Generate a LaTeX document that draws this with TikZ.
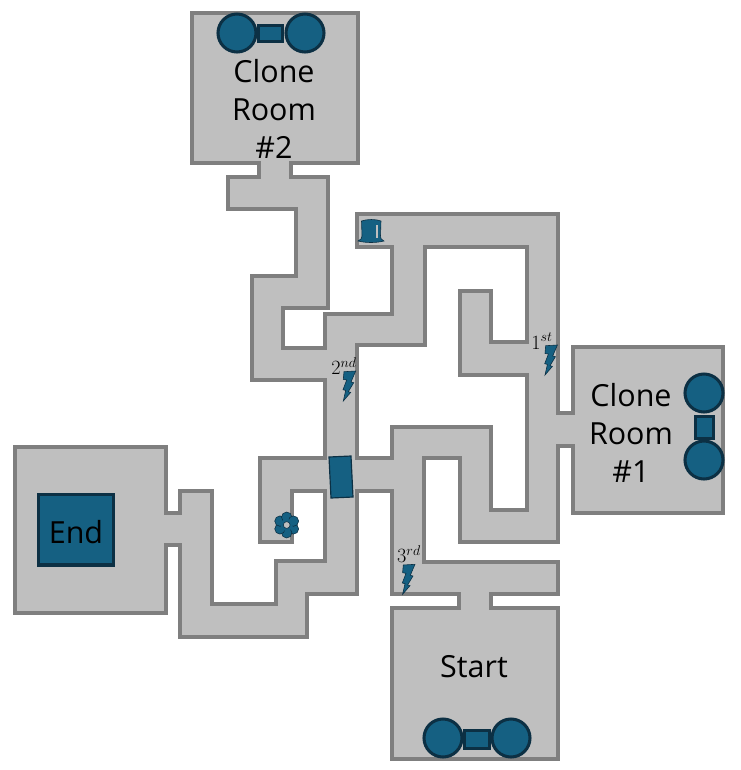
\documentclass[tikz,border=0pt]{standalone}
\usepackage{amsmath}
\usepackage{fontspec}
\setmainfont{Open Sans}
\usetikzlibrary{positioning}

\definecolor{wallgray}{HTML}{7F7F7F}
\definecolor{floorgray}{HTML}{BFBFBF}
\definecolor{itemblue}{HTML}{156082}
\definecolor{itemdark}{HTML}{0C3044}

\tikzset{
	wall/.style={draw=wallgray, fill=floorgray, line width=3pt, even odd rule},
	gadget/.style={draw=itemdark, fill=itemblue, line width=2.6pt},
	item/.style={draw=itemdark, fill=itemblue, line width=0.5pt},
	roomtext/.style={align=center, inner sep=0pt, font=\fontsize{26}{32.4}\selectfont},
	hint/.style={inner sep=0pt, font=\fontsize{18}{20}\selectfont},
	pics/bolt/.style={code={
		\draw[item] (0,0) -- (11.7,-0.7) -- (7,10.3) -- (9.7,11) -- (4.3,20) -- (6.7,20.7)
			-- (-0.7,29.3) -- (1.7,18.7) -- (-1,18) -- (2.7,8.3) -- (-0.7,7.7) -- cycle;
	}}
}

\begin{document}
\begin{tikzpicture}[x=0.03cm, y=-0.03cm]
	\useasboundingbox (0,0) rectangle (741,770);

	% Outer wall, then the inner wall of the loop
	\draw[wall] (291,163) -- (291,177) -- (328,177) -- (328,308) -- (283,308) -- (283,348)
		-- (325,348) -- (325,314) -- (392,314) -- (392,247) -- (357,247) -- (357,214)
		-- (558,214) -- (558,413) -- (573,413) -- (573,347) -- (723,347) -- (723,513)
		-- (573,513) -- (573,446) -- (558,446) -- (558,542) -- (460,542) -- (460,458)
		-- (424,458) -- (424,562) -- (558,562) -- (558,594) -- (491,594) -- (491,608)
		-- (558,608) -- (558,759) -- (392,759) -- (392,608) -- (459,608) -- (459,594)
		-- (392,594) -- (392,491) -- (357,491) -- (357,594) -- (307,594) -- (307,637)
		-- (180,637) -- (180,545) -- (166,545) -- (166,613) -- (15,613) -- (15,447)
		-- (166,447) -- (166,513) -- (180,513) -- (180,491) -- (212,491) -- (212,604)
		-- (276,604) -- (276,561) -- (325,561) -- (325,491) -- (292,491) -- (292,542)
		-- (260,542) -- (260,458) -- (325,458) -- (325,380) -- (252,380) -- (252,276)
		-- (296,276) -- (296,209) -- (228,209) -- (228,177) -- (259,177) -- (259,163)
		-- (192,163) -- (192,13) -- (358,13) -- (358,163) -- cycle
		(357,458) -- (392,458) -- (392,427) -- (491,427) -- (491,510) -- (527,510)
		-- (527,375) -- (460,375) -- (460,291) -- (491,291) -- (491,342) -- (527,342)
		-- (527,247) -- (425,247) -- (425,345) -- (357,345) -- cycle;

	% Cloning machines
	\foreach \x/\y in {237/33, 305/33, 704/393, 704/460, 443/738, 511/738}
		\filldraw[gadget] (\x,\y) circle (19);
	\filldraw[gadget] (258.8,25.5) rectangle (282.5,41.8);
	\filldraw[gadget] (695.8,416.5) rectangle (713.5,438.5);
	\filldraw[gadget] (464.8,730.5) rectangle (489.2,748.5);

	% Goal and door
	\filldraw[gadget] (38.5,494.5) rectangle (113.5,565);
	\filldraw[item, line width=1pt] (329,457) -- (351,456) -- (353,497) -- (331,498) -- cycle;

	% Hat
	\filldraw[item] (358,241) .. controls (361,240) and (362,238) .. (362,236) -- (361.5,221)
		.. controls (367,219) and (376,219) .. (381,221) -- (380.5,236)
		.. controls (380.5,238) and (381,240) .. (384,241) .. controls (376,243) and (366,243) .. (358,241) -- cycle;
	\fill[floorgray] (376,225) rectangle (377.5,238);

	% Flower
	\foreach \a in {30, 90, ..., 330}
		\filldraw[item] (286.7,525) ++(\a:7.8) circle (5.2);
	\fill[itemblue] (286.7,525) circle (6);
	\filldraw[draw=itemdark, fill=floorgray, line width=0.5pt] (286.7,525) circle (3.4);

	% Bolts
	\pic at (545.7,345.7) {bolt};
	\pic at (344,371.7) {bolt};
	\pic at (403.3,565) {bolt};

	% Labels
	\node[roomtext] (room2) at (274,109) {Clone\\Room\\\#2};
	\node[roomtext] (room1) at (631,433) {Clone\\Room\\\#1};
	\node[roomtext] (start) at (474,667) {Start};
	\node[roomtext] (end) at (76,532) {End};
	\node[hint] (first) at (542,341) {$1^{st}$};
	\node[hint] (second) at (344,366) {$2^{nd}$};
	\node[hint] (third) at (409,554) {$3^{rd}$};
\end{tikzpicture}
\end{document}
